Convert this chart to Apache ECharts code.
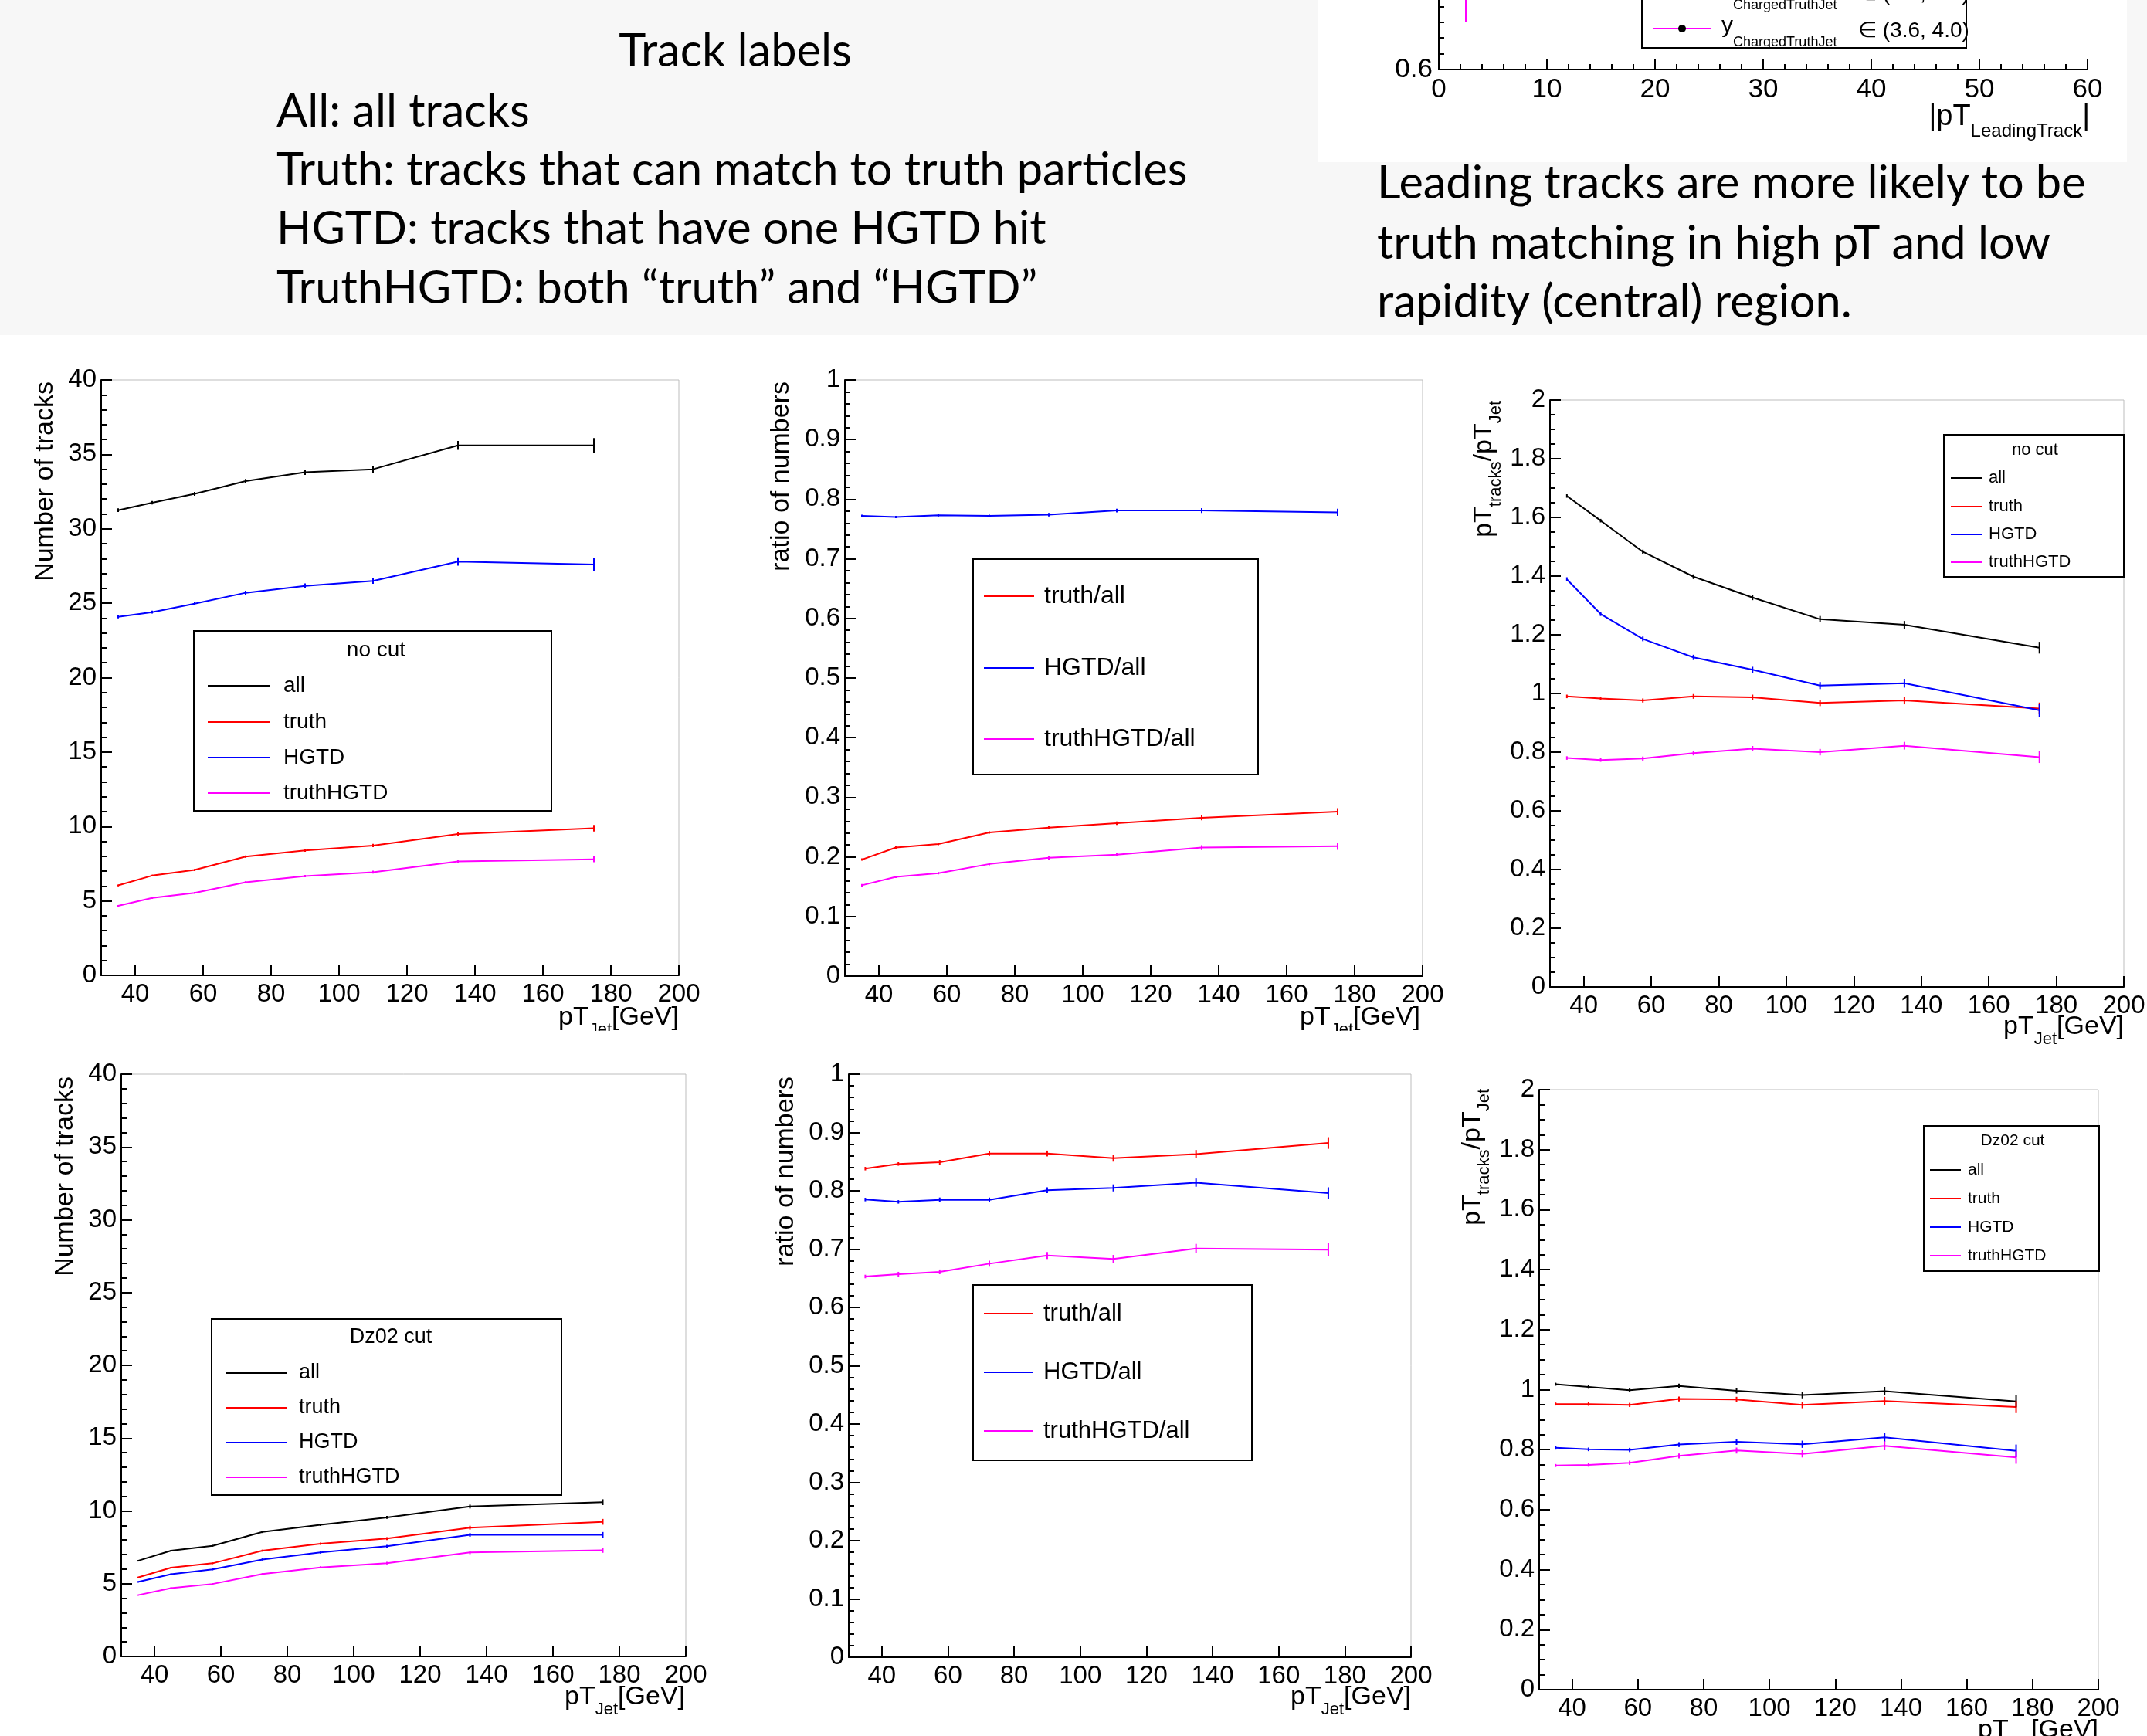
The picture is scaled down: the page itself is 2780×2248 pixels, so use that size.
<!DOCTYPE html>
<html><head><meta charset="utf-8">
<script src="https://cdn.jsdelivr.net/npm/echarts@6/dist/echarts.min.js"></script>
<style>html,body{margin:0;padding:0;background:#fff;}#c{width:2780px;height:2248px;}</style>
</head><body><div id="c"></div>
<script>
// ---------------- DATA ----------------
const ptJetCenters = [35, 45, 57.5, 72.5, 90, 110, 135, 175];
const xMajorTicks = [40, 60, 80, 100, 120, 140, 160, 180, 200];
const xMinorTicks = [35, 45, 50, 55, 65, 70, 75, 85, 90, 95, 105, 110, 115, 125, 130, 135, 145, 150, 155, 165, 170, 175, 185, 190, 195];

// Panel 1: number of tracks, no cut
const nNoCutAll       = [31.25, 31.75, 32.35, 33.2, 33.8, 34.0, 35.6, 35.6];
const nNoCutTruth     = [6.04, 6.7, 7.08, 7.98, 8.39, 8.72, 9.49, 9.88];
const nNoCutHGTD      = [24.08, 24.4, 24.97, 25.7, 26.16, 26.5, 27.8, 27.6];
const nNoCutTruthHGTD = [4.67, 5.2, 5.54, 6.25, 6.67, 6.93, 7.65, 7.8];
const nNoCutAllErr       = [0.12, 0.12, 0.13, 0.15, 0.18, 0.22, 0.3, 0.5];
const nNoCutTruthErr     = [0.06, 0.06, 0.07, 0.08, 0.09, 0.11, 0.14, 0.22];
const nNoCutHGTDErr      = [0.1, 0.1, 0.12, 0.14, 0.17, 0.2, 0.28, 0.45];
const nNoCutTruthHGTDErr = [0.05, 0.06, 0.06, 0.07, 0.08, 0.1, 0.13, 0.2];

// Panel 2: ratio of numbers, no cut
const rNoCutTruth     = [0.1955, 0.2156, 0.2216, 0.2409, 0.249, 0.2565, 0.2654, 0.2758];
const rNoCutHGTD      = [0.772, 0.770, 0.773, 0.772, 0.774, 0.781, 0.781, 0.778];
const rNoCutTruthHGTD = [0.1524, 0.1665, 0.1725, 0.188, 0.1985, 0.2037, 0.2156, 0.2178];
const rNoCutTruthErr     = [0.002, 0.002, 0.002, 0.002, 0.003, 0.003, 0.004, 0.006];
const rNoCutHGTDErr      = [0.002, 0.002, 0.002, 0.002, 0.003, 0.003, 0.004, 0.006];
const rNoCutTruthHGTDErr = [0.002, 0.002, 0.002, 0.002, 0.003, 0.003, 0.004, 0.006];

// Panel 3: pT tracks / pT jet, no cut
const pNoCutAll       = [1.673, 1.589, 1.483, 1.398, 1.327, 1.253, 1.234, 1.156];
const pNoCutTruth     = [0.990, 0.983, 0.976, 0.990, 0.987, 0.968, 0.976, 0.949];
const pNoCutHGTD      = [1.389, 1.271, 1.186, 1.123, 1.081, 1.027, 1.035, 0.943];
const pNoCutTruthHGTD = [0.780, 0.773, 0.778, 0.797, 0.812, 0.800, 0.822, 0.783];
const pNoCutAllErr       = [0.006, 0.006, 0.007, 0.008, 0.009, 0.011, 0.013, 0.02];
const pNoCutTruthErr     = [0.006, 0.006, 0.007, 0.008, 0.009, 0.011, 0.013, 0.02];
const pNoCutHGTDErr      = [0.007, 0.007, 0.008, 0.009, 0.01, 0.012, 0.015, 0.022];
const pNoCutTruthHGTDErr = [0.006, 0.006, 0.007, 0.008, 0.009, 0.011, 0.013, 0.02];

// Panel 4: number of tracks, Dz02 cut
const nDzAll       = [6.57, 7.27, 7.6, 8.55, 9.05, 9.55, 10.3, 10.6];
const nDzTruth     = [5.42, 6.1, 6.4, 7.27, 7.75, 8.1, 8.85, 9.25];
const nDzHGTD      = [5.12, 5.65, 5.98, 6.66, 7.15, 7.57, 8.35, 8.35];
const nDzTruthHGTD = [4.21, 4.70, 4.98, 5.66, 6.12, 6.41, 7.15, 7.3];
const nDzAllErr       = [0.05, 0.05, 0.06, 0.07, 0.08, 0.1, 0.13, 0.2];
const nDzTruthErr     = [0.05, 0.05, 0.06, 0.07, 0.08, 0.1, 0.13, 0.2];
const nDzHGTDErr      = [0.05, 0.05, 0.06, 0.07, 0.08, 0.1, 0.13, 0.2];
const nDzTruthHGTDErr = [0.04, 0.05, 0.05, 0.06, 0.07, 0.09, 0.12, 0.18];

// Panel 5: ratio of numbers, Dz02 cut
const rDzTruth     = [0.838, 0.846, 0.849, 0.864, 0.864, 0.856, 0.863, 0.882];
const rDzHGTD      = [0.785, 0.781, 0.7845, 0.7845, 0.801, 0.805, 0.814, 0.796];
const rDzTruthHGTD = [0.653, 0.657, 0.661, 0.675, 0.689, 0.683, 0.701, 0.699];
const rDzTruthErr     = [0.003, 0.003, 0.004, 0.004, 0.005, 0.006, 0.007, 0.01];
const rDzHGTDErr      = [0.003, 0.003, 0.004, 0.004, 0.005, 0.006, 0.007, 0.01];
const rDzTruthHGTDErr = [0.003, 0.004, 0.004, 0.005, 0.006, 0.007, 0.008, 0.011];

// Panel 6: pT tracks / pT jet, Dz02 cut
const pDzAll       = [1.018, 1.009, 0.998, 1.012, 0.996, 0.982, 0.995, 0.961];
const pDzTruth     = [0.952, 0.952, 0.949, 0.969, 0.967, 0.949, 0.962, 0.942];
const pDzHGTD      = [0.806, 0.801, 0.799, 0.817, 0.826, 0.818, 0.841, 0.796];
const pDzTruthHGTD = [0.747, 0.749, 0.756, 0.779, 0.797, 0.786, 0.813, 0.774];
const pDzAllErr       = [0.005, 0.006, 0.007, 0.008, 0.009, 0.011, 0.014, 0.02];
const pDzTruthErr     = [0.005, 0.006, 0.007, 0.008, 0.009, 0.011, 0.014, 0.02];
const pDzHGTDErr      = [0.006, 0.006, 0.007, 0.008, 0.01, 0.012, 0.015, 0.021];
const pDzTruthHGTDErr = [0.005, 0.006, 0.007, 0.008, 0.01, 0.012, 0.015, 0.021];

// Partial plot at top right (leading track)
const leadX = [2.5];
const leadY = [0.67];
const leadErr = [0.04];

// Texts
const slideTitle = 'Track labels';
const slideLines = ['All: all tracks', 'Truth: tracks that can match to truth particles', 'HGTD: tracks that have one HGTD hit', 'TruthHGTD: both \u201ctruth\u201d and \u201cHGTD\u201d'];
const noteLines = ['Leading tracks are more likely to be', 'truth matching in high pT and low', 'rapidity (central) region.'];

// ---------------- BUILD ----------------
const FONT = 'Liberation Sans';
const C = {all: '#000000', truth: '#ff0000', HGTD: '#0000ff', truthHGTD: '#ff00ff'};

const panels = [
  {box: {left: 131, top: 492, width: 748, height: 771}, y: [0, 40, 5, 5],
   ser: [['all', C.all, nNoCutAll, nNoCutAllErr], ['truth', C.truth, nNoCutTruth, nNoCutTruthErr], ['HGTD', C.HGTD, nNoCutHGTD, nNoCutHGTDErr], ['truthHGTD', C.truthHGTD, nNoCutTruthHGTD, nNoCutTruthHGTDErr]],
   leg: {rect: [251, 817, 714, 1050], title: 'no cut', tx: 487, ty: 842, ys: [888, 935, 981, 1027], lx: [269, 350], txx: 367, fs: 28},
   ytitle: {parts: [['Number of tracks', 0]], x: 59, y: 494}, xtitle: {x: 879, y: 1318}},
  {box: {left: 1094, top: 492, width: 748, height: 772}, y: [0, 1, 0.1, 5],
   ser: [['truth/all', C.truth, rNoCutTruth, rNoCutTruthErr], ['HGTD/all', C.HGTD, rNoCutHGTD, rNoCutHGTDErr], ['truthHGTD/all', C.truthHGTD, rNoCutTruthHGTD, rNoCutTruthHGTDErr]],
   leg: {rect: [1260, 724, 1629, 1003], title: null, ys: [772, 865, 957], lx: [1274, 1339], txx: 1352, fs: 32},
   ytitle: {parts: [['ratio of numbers', 0]], x: 1012, y: 494}, xtitle: {x: 1839, y: 1318}},
  {box: {left: 2007, top: 518, width: 743, height: 760}, y: [0, 2, 0.2, 4],
   ser: [['all', C.all, pNoCutAll, pNoCutAllErr], ['truth', C.truth, pNoCutTruth, pNoCutTruthErr], ['HGTD', C.HGTD, pNoCutHGTD, pNoCutHGTDErr], ['truthHGTD', C.truthHGTD, pNoCutTruthHGTD, pNoCutTruthHGTDErr]],
   leg: {rect: [2517, 563, 2750, 747], title: 'no cut', tx: 2635, ty: 583, ys: [619, 656, 692, 728], lx: [2526, 2567], txx: 2575, fs: 22},
   ytitle: {parts: [['pT', 0], ['tracks', 1], ['/pT', 0], ['Jet', 1]], x: 1922, y: 519}, xtitle: {x: 2750, y: 1330}},
  {box: {left: 157, top: 1391, width: 731, height: 754}, y: [0, 40, 5, 5],
   ser: [['all', C.all, nDzAll, nDzAllErr], ['truth', C.truth, nDzTruth, nDzTruthErr], ['HGTD', C.HGTD, nDzHGTD, nDzHGTDErr], ['truthHGTD', C.truthHGTD, nDzTruthHGTD, nDzTruthHGTDErr]],
   leg: {rect: [274, 1708, 727, 1936], title: 'Dz02 cut', tx: 506, ty: 1732, ys: [1778, 1823, 1868, 1913], lx: [292, 371], txx: 387, fs: 27},
   ytitle: {parts: [['Number of tracks', 0]], x: 85, y: 1394}, xtitle: {x: 887, y: 2198}},
  {box: {left: 1099, top: 1391, width: 728, height: 755}, y: [0, 1, 0.1, 5],
   ser: [['truth/all', C.truth, rDzTruth, rDzTruthErr], ['HGTD/all', C.HGTD, rDzHGTD, rDzHGTDErr], ['truthHGTD/all', C.truthHGTD, rDzTruthHGTD, rDzTruthHGTDErr]],
   leg: {rect: [1260, 1664, 1621, 1891], title: null, ys: [1701, 1777, 1853], lx: [1274, 1337], txx: 1351, fs: 31},
   ytitle: {parts: [['ratio of numbers', 0]], x: 1018, y: 1394}, xtitle: {x: 1827, y: 2198}},
  {box: {left: 1993, top: 1411, width: 724, height: 777}, y: [0, 2, 0.2, 4],
   ser: [['all', C.all, pDzAll, pDzAllErr], ['truth', C.truth, pDzTruth, pDzTruthErr], ['HGTD', C.HGTD, pDzHGTD, pDzHGTDErr], ['truthHGTD', C.truthHGTD, pDzTruthHGTD, pDzTruthHGTDErr]],
   leg: {rect: [2491, 1458, 2718, 1646], title: 'Dz02 cut', tx: 2606, ty: 1477, ys: [1515, 1552, 1589, 1626], lx: [2499, 2539], txx: 2548, fs: 21},
   ytitle: {parts: [['pT', 0], ['tracks', 1], ['/pT', 0], ['Jet', 1]], x: 1907, y: 1410}, xtitle: {x: 2717, y: 2241}}
];

const measCtx = document.createElement('canvas').getContext('2d');
function textW(str, size, family) { measCtx.font = size + 'px "' + family + '"'; return measCtx.measureText(str).width; }
function fnt(size, family) { return size + 'px "' + (family || FONT) + '"'; }

// text with subscripts; anchor = right end (or left), vertical center of main text
function subText(parts, x, y, o) {
  const main = o.main || 34, sub = o.sub || 22, dy = o.dy || 15;
  const widths = parts.map(p => textW(p[0], p[1] ? sub : main, FONT));
  const total = widths.reduce((a, b) => a + b, 0);
  let cx = o.align === 'right' ? -total : 0;
  const children = [];
  parts.forEach((p, k) => {
    children.push({type: 'text', x: cx, y: p[1] ? dy : 0, z: 100,
      style: {text: p[0], font: fnt(p[1] ? sub : main), fill: '#000', align: 'left', textAlign: 'left', verticalAlign: 'middle', textVerticalAlign: 'middle'}});
    cx += widths[k];
  });
  return {type: 'group', x: x, y: y, rotation: o.rotation || 0, z: 100, children: children};
}

function errRender(color) {
  return function (params, api) {
    const x = api.value(0), y = api.value(1), e = api.value(2);
    const p1 = api.coord([x, y - e]), p2 = api.coord([x, y + e]);
    return {type: 'line', shape: {x1: p1[0], y1: p1[1], x2: p2[0], y2: p2[1]}, style: {stroke: color, lineWidth: 2}};
  };
}

const grids = [], xAxes = [], yAxes = [], series = [], gfx = [];
const tickLine = {color: '#000', width: 2};

// backgrounds
gfx.push({type: 'rect', z: -10, shape: {x: 0, y: 0, width: 2780, height: 434}, style: {fill: '#f7f7f7'}});
gfx.push({type: 'rect', z: -9, shape: {x: 1707, y: 0, width: 1047, height: 210}, style: {fill: '#ffffff'}});

panels.forEach((p, i) => {
  grids.push(Object.assign({show: true, borderColor: '#bdbdbd', borderWidth: 1, backgroundColor: '#ffffff', outerBoundsMode: 'none', containLabel: false}, p.box));
  xAxes.push({gridIndex: i, type: 'value', min: 30, max: 200, position: 'bottom',
    axisLine: {onZero: false, lineStyle: tickLine},
    axisTick: {inside: true, length: 14, customValues: xMajorTicks, lineStyle: tickLine},
    axisLabel: {customValues: xMajorTicks, color: '#000', fontSize: 33, fontFamily: FONT, margin: 8},
    splitLine: {show: false}});
  yAxes.push({gridIndex: i, type: 'value', min: p.y[0], max: p.y[1], interval: p.y[2],
    axisLine: {show: true, onZero: false, lineStyle: tickLine},
    axisTick: {show: true, inside: true, length: 14, lineStyle: tickLine},
    minorTick: {show: true, splitNumber: p.y[3], length: 7, lineStyle: tickLine},
    axisLabel: {color: '#000', fontSize: 33, fontFamily: FONT, margin: 6},
    splitLine: {show: false}, minorSplitLine: {show: false}});
  p.ser.forEach(s => {
    series.push({type: 'line', name: s[0], xAxisIndex: i, yAxisIndex: i, silent: true, animation: false,
      symbol: 'none', showSymbol: false, z: 3,
      lineStyle: {color: s[1], width: 2}, itemStyle: {color: s[1]},
      data: ptJetCenters.map((x, k) => [x, s[2][k]])});
    series.push({type: 'custom', name: s[0] + ' err', xAxisIndex: i, yAxisIndex: i, silent: true, animation: false, z: 4,
      renderItem: errRender(s[1]),
      data: ptJetCenters.map((x, k) => [x, s[2][k], s[3][k]])});
  });
  // legend
  const L = p.leg;
  gfx.push({type: 'rect', z: 100, shape: {x: L.rect[0], y: L.rect[1], width: L.rect[2] - L.rect[0], height: L.rect[3] - L.rect[1]},
    style: {fill: '#ffffff', stroke: '#000', lineWidth: 2}});
  if (L.title) gfx.push({type: 'text', z: 101, x: L.tx, y: L.ty, style: {text: L.title, font: fnt(L.fs), fill: '#000', align: 'center', textAlign: 'center', verticalAlign: 'middle', textVerticalAlign: 'middle'}});
  p.ser.forEach((s, k) => {
    gfx.push({type: 'line', z: 101, shape: {x1: L.lx[0], y1: L.ys[k], x2: L.lx[1], y2: L.ys[k]}, style: {stroke: s[1], lineWidth: 2}});
    gfx.push({type: 'text', z: 101, x: L.txx, y: L.ys[k], style: {text: s[0], font: fnt(L.fs), fill: '#000', align: 'left', textAlign: 'left', verticalAlign: 'middle', textVerticalAlign: 'middle'}});
  });
  // axis titles
  gfx.push(subText(p.ytitle.parts, p.ytitle.x, p.ytitle.y, {align: 'right', rotation: Math.PI / 2, main: 34, sub: 22, dy: 15}));
  gfx.push(subText([['pT', 0], ['Jet', 1], ['[GeV]', 0]], p.xtitle.x, p.xtitle.y, {align: 'right', main: 34, sub: 22, dy: 16}));
});

// subscripts of top row x-titles are cut off in the original
gfx.push({type: 'rect', z: 150, shape: {x: 0, y: 1335, width: 1880, height: 40}, style: {fill: '#ffffff'}});

// partial plot top-right
const fi = panels.length;
grids.push({left: 1863, top: -12, width: 840, height: 102, show: false, outerBoundsMode: 'none', containLabel: false});
xAxes.push({gridIndex: fi, type: 'value', min: 0, max: 60, interval: 10, position: 'bottom',
  axisLine: {onZero: false, lineStyle: tickLine},
  axisTick: {inside: true, length: 14, lineStyle: tickLine},
  minorTick: {show: true, splitNumber: 5, length: 7, lineStyle: tickLine},
  axisLabel: {color: '#000', fontSize: 35, fontFamily: FONT, margin: 9},
  splitLine: {show: false}, minorSplitLine: {show: false}});
yAxes.push({gridIndex: fi, type: 'value', min: 0.6, max: 0.65, interval: 0.05,
  axisLine: {show: true, onZero: false, lineStyle: tickLine},
  axisTick: {show: true, inside: true, length: 14, lineStyle: tickLine},
  minorTick: {show: true, splitNumber: 5, length: 7, lineStyle: tickLine},
  axisLabel: {color: '#000', fontSize: 35, fontFamily: FONT, margin: 8},
  splitLine: {show: false}, minorSplitLine: {show: false}});
series.push({type: 'custom', name: 'lead err', xAxisIndex: fi, yAxisIndex: fi, silent: true, animation: false, z: 4,
  renderItem: errRender('#ff00ff'), data: leadX.map((x, k) => [x, leadY[k], leadErr[k]])});
// its legend fragment
gfx.push({type: 'rect', z: 100, shape: {x: 2126, y: -30, width: 420, height: 92}, style: {fill: '#ffffff', stroke: '#000', lineWidth: 2}});
gfx.push({type: 'line', z: 101, shape: {x1: 2141, y1: 37, x2: 2215, y2: 37}, style: {stroke: '#ff00ff', lineWidth: 2}});
gfx.push({type: 'circle', z: 102, shape: {cx: 2178, cy: 37, r: 5}, style: {fill: '#000'}});
gfx.push(subText([['y', 0], ['ChargedTruthJet', 1]], 2229, 34, {main: 30, sub: 18, dy: 21}));
gfx.push({type: 'text', z: 101, x: 2406, y: 40, style: {text: '\u2208 (3.6, 4.0)', font: fnt(28), fill: '#000', align: 'left', textAlign: 'left', verticalAlign: 'middle', textVerticalAlign: 'middle'}});
gfx.push(subText([['y', 0], ['ChargedTruthJet', 1]], 2229, -14, {main: 30, sub: 18, dy: 21}));
gfx.push({type: 'text', z: 101, x: 2406, y: -8, style: {text: '\u2208 (3.2, 3.6)', font: fnt(28), fill: '#000', align: 'left', textAlign: 'left', verticalAlign: 'middle', textVerticalAlign: 'middle'}});
gfx.push(subText([['|pT', 0], ['LeadingTrack', 1], ['|', 0]], 2706, 152, {align: 'right', main: 38, sub: 24, dy: 18}));

// slide texts
const TF = 59.5;
gfx.push({type: 'text', z: 100, x: 952, y: 67, style: {text: slideTitle, font: fnt(TF, 'Lato'), fill: '#000', align: 'center', textAlign: 'center', verticalAlign: 'middle', textVerticalAlign: 'middle'}});
const slideYs = [145, 221, 297, 374];
slideLines.forEach((t, k) => gfx.push({type: 'text', z: 100, x: 358, y: slideYs[k], style: {text: t, font: fnt(TF, 'Lato'), fill: '#000', align: 'left', textAlign: 'left', verticalAlign: 'middle', textVerticalAlign: 'middle'}}));
const noteYs = [238, 316, 392];
noteLines.forEach((t, k) => gfx.push({type: 'text', z: 100, x: 1783, y: noteYs[k], style: {text: t, font: fnt(TF, 'Lato'), fill: '#000', align: 'left', textAlign: 'left', verticalAlign: 'middle', textVerticalAlign: 'middle'}}));

const chart = echarts.init(document.getElementById('c'), null, {renderer: 'canvas'});
chart.setOption({
  animation: false,
  backgroundColor: '#ffffff',
  grid: grids, xAxis: xAxes, yAxis: yAxes, series: series,
  graphic: {elements: gfx}
});
</script>
</body></html>
